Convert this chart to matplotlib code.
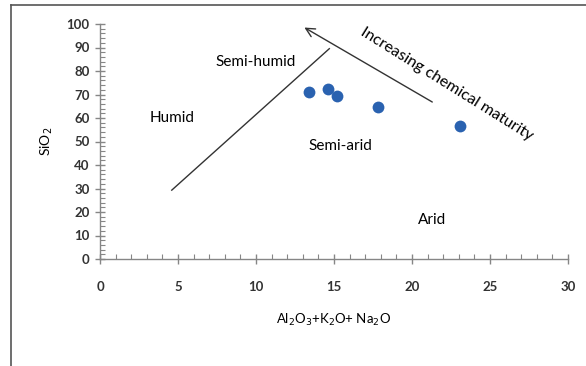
import matplotlib
matplotlib.use("Agg")
import matplotlib.pyplot as plt
from matplotlib.ticker import MultipleLocator
from matplotlib.lines import Line2D

plt.rcParams['font.family'] = ['Lato', 'DejaVu Sans']

# data
x_vals = [13.4, 14.6, 15.2, 17.8, 23.1]
y_vals = [71.0, 72.3, 69.2, 64.8, 56.7]

boundary_x = [4.6, 14.7]
boundary_y = [29.3, 89.5]
arrow_start = (21.3, 66.8)
arrow_end = (13.1, 98.5)

region_labels = ["Semi-humid", "Humid", "Semi-arid", "Arid"]
region_x = [10.0, 4.6, 15.4, 21.3]
region_y = [84.0, 60.0, 48.0, 16.5]

fig = plt.figure(figsize=(5.86, 3.66), dpi=100)
ax = fig.add_axes([100/586, 1-259/366, 468/586, 235/366])

ax.plot(x_vals, y_vals, 'o', color='#2A62B0', markersize=8.5, markeredgewidth=0)
ax.plot(boundary_x, boundary_y, color='#333333', lw=1.0)
ax.annotate('', xy=arrow_end, xytext=arrow_start,
            arrowprops=dict(arrowstyle='->', color='#333333', lw=1.0,
                            mutation_scale=16, shrinkA=0, shrinkB=0))
ax.text(22.2, 74.5, 'Increasing chemical maturity', rotation=-32,
        ha='center', va='center', fontsize=11.5, color='black',
        rotation_mode='anchor')
for lab, lx, ly in zip(region_labels, region_x, region_y):
    ax.text(lx, ly, lab, ha='center', va='center', fontsize=11, color='black')

ax.set_xlim(0, 30)
ax.set_ylim(0, 100)
ax.xaxis.set_major_locator(MultipleLocator(5))
ax.xaxis.set_minor_locator(MultipleLocator(1))
ax.yaxis.set_major_locator(MultipleLocator(10))
ax.yaxis.set_minor_locator(MultipleLocator(2))
for s in ['top', 'right']:
    ax.spines[s].set_visible(False)
for s in ['left', 'bottom']:
    ax.spines[s].set_color('#868686')
    ax.spines[s].set_linewidth(1.0)
ax.tick_params(which='major', direction='inout', length=7, width=1, color='#868686',
               labelsize=9.5, pad=4)
ax.tick_params(which='minor', direction='in', length=3.5, width=0.8, color='#868686')
ax.tick_params(axis='x', which='major', pad=12)
for t in ax.get_xticklabels() + ax.get_yticklabels():
    t.set_fontweight('bold')
    t.set_color('#333333')

ax.set_xlabel('Al$_2$O$_3$+K$_2$O+ Na$_2$O', fontsize=9.5, labelpad=14)
ax.set_ylabel('SiO$_2$', fontsize=10, labelpad=8)

# outer frame
fig.add_artist(Line2D([11/586, 11/586], [0, 1-5/366], transform=fig.transFigure,
                      color='#555555', lw=1.2))
fig.add_artist(Line2D([11/586, 1], [1-5/366, 1-5/366], transform=fig.transFigure,
                      color='#555555', lw=1.2))

fig.savefig('out.png', dpi=100)
